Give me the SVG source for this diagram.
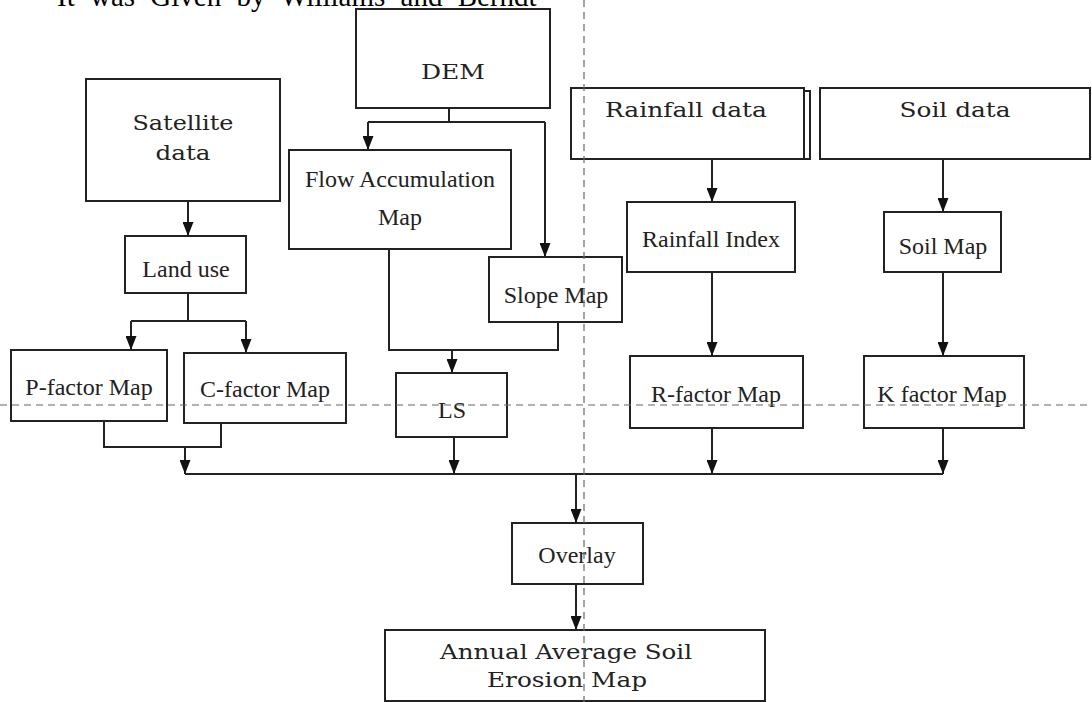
<svg xmlns="http://www.w3.org/2000/svg" width="1092" height="702" viewBox="0 0 1092 702">
<defs>
<marker id="ah" markerWidth="14" markerHeight="11" refX="14" refY="5.5" orient="auto" markerUnits="userSpaceOnUse" viewBox="0 0 14 11">
<path d="M0,0 L14,5.5 L0,11 Z" fill="#111"/>
</marker>
<style>
.box{fill:#fff;stroke:#222;stroke-width:2}
.ln{fill:none;stroke:#222;stroke-width:2}
.ar{fill:none;stroke:#222;stroke-width:2;marker-end:url(#ah)}
.dash{fill:none;stroke:#666;stroke-width:1.2;stroke-dasharray:7 5}
.tr{font-family:"Liberation Serif","Times New Roman",serif;font-size:24px;fill:#222;text-anchor:middle}
.sl{font-family:"DejaVu Serif",serif;font-size:21px;fill:#222;text-anchor:middle}
.top{font-family:"Liberation Serif","Times New Roman",serif;font-size:29px;fill:#000;word-spacing:8px}
</style>
</defs>
<rect width="1092" height="702" fill="#fff"/>
<text class="top" x="57" y="6">It was Given by Williams and Berndt</text>

<g id="connectors">
<line class="ar" x1="188" y1="201" x2="188" y2="236"/>
<polyline class="ln" points="188,293 188,321"/>
<polyline class="ln" points="131,321 246,321"/>
<line class="ar" x1="131" y1="321" x2="131" y2="350"/>
<line class="ar" x1="246" y1="321" x2="246" y2="353"/>
<polyline class="ln" points="104,421 104,447 221,447 221,423"/>
<line class="ar" x1="185" y1="447" x2="185" y2="474"/>
<polyline class="ln" points="449,108 449,122"/>
<polyline class="ln" points="368,122 545,122"/>
<line class="ar" x1="368" y1="122" x2="368" y2="150"/>
<line class="ar" x1="545" y1="122" x2="545" y2="257"/>
<polyline class="ln" points="389,249 389,350 558,350 558,322"/>
<line class="ar" x1="452" y1="350" x2="452" y2="373"/>
<line class="ar" x1="454" y1="437" x2="454" y2="474"/>
<line class="ar" x1="712" y1="159" x2="712" y2="202"/>
<line class="ar" x1="712" y1="272" x2="712" y2="356"/>
<line class="ar" x1="712" y1="428" x2="712" y2="474"/>
<line class="ar" x1="943" y1="159" x2="943" y2="212"/>
<line class="ar" x1="943" y1="272" x2="943" y2="356"/>
<line class="ar" x1="943" y1="428" x2="943" y2="474"/>
<polyline class="ln" points="185,474 943,474"/>
<line class="ar" x1="576" y1="474" x2="576" y2="523"/>
<line class="ar" x1="576" y1="584" x2="576" y2="630"/>
</g>

<g id="dem"><rect class="box" x="356" y="9" width="194" height="99"/><text class="sl" x="453" y="79" textLength="64" lengthAdjust="spacingAndGlyphs">DEM</text></g>
<g id="satellite"><rect class="box" x="86" y="79" width="194" height="122"/><text class="sl" x="183" y="130" textLength="101" lengthAdjust="spacingAndGlyphs">Satellite</text><text class="sl" x="183" y="160" textLength="55" lengthAdjust="spacingAndGlyphs">data</text></g>
<g id="rainfall-data"><rect class="box" x="576" y="91" width="234" height="68"/><rect class="box" x="571" y="88" width="233" height="71"/><text class="sl" x="686" y="117" textLength="162" lengthAdjust="spacingAndGlyphs">Rainfall data</text></g>
<g id="soil-data"><rect class="box" x="820" y="88" width="270" height="71"/><text class="sl" x="955" y="117" textLength="111" lengthAdjust="spacingAndGlyphs">Soil data</text></g>
<g id="flow-acc"><rect class="box" x="289" y="150" width="222" height="99"/><text class="tr" x="400" y="187">Flow Accumulation</text><text class="tr" x="400" y="225">Map</text></g>
<g id="land-use"><rect class="box" x="125" y="236" width="121" height="57"/><text class="tr" x="186" y="277">Land use</text></g>
<g id="slope"><rect class="box" x="489" y="257" width="133" height="65"/><text class="tr" x="556" y="303">Slope Map</text></g>
<g id="rainfall-index"><rect class="box" x="627" y="202" width="168" height="70"/><text class="tr" x="711" y="247">Rainfall Index</text></g>
<g id="soil-map"><rect class="box" x="884" y="212" width="117" height="60"/><text class="tr" x="943" y="254">Soil Map</text></g>
<g id="p-factor"><rect class="box" x="11" y="350" width="156" height="71"/><text class="tr" x="89" y="395">P-factor Map</text></g>
<g id="c-factor"><rect class="box" x="184" y="353" width="162" height="70"/><text class="tr" x="265" y="397">C-factor Map</text></g>
<g id="ls"><rect class="box" x="396" y="373" width="111" height="64"/><text class="tr" x="452" y="418">LS</text></g>
<g id="r-factor"><rect class="box" x="630" y="356" width="173" height="72"/><text class="tr" x="716" y="402">R-factor Map</text></g>
<g id="k-factor"><rect class="box" x="864" y="356" width="160" height="72"/><text class="tr" x="942" y="402">K factor Map</text></g>
<g id="overlay"><rect class="box" x="512" y="523" width="131" height="61"/><text class="tr" x="577" y="563">Overlay</text></g>
<g id="erosion"><rect class="box" x="385" y="630" width="380" height="71"/><text class="sl" x="566" y="659" textLength="252" lengthAdjust="spacingAndGlyphs">Annual Average Soil</text><text class="sl" x="567" y="687" textLength="160" lengthAdjust="spacingAndGlyphs">Erosion Map</text></g>

<line class="dash" x1="584" y1="0" x2="584" y2="702"/>
<line class="dash" x1="0" y1="405" x2="1092" y2="405"/>
</svg>
